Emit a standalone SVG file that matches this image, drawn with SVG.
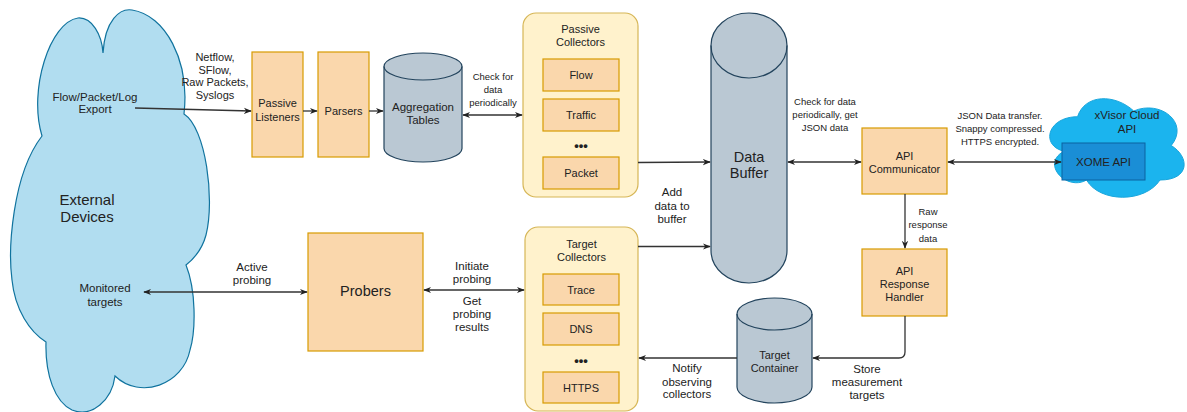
<svg xmlns="http://www.w3.org/2000/svg" width="1187" height="412" viewBox="0 0 1187 412">
  <defs>
    <style>
      .box { fill: #fad7ac; stroke: #d79b00; stroke-width: 1.2; }
      .grp { fill: #fff2cc; stroke: #d6b656; stroke-width: 1.2; }
      .cyl { fill: #bac8d3; stroke: #23445d; stroke-width: 1.2; }
      .cyl-rim { fill: none; stroke: #23445d; stroke-width: 1.2; }
      .t { font-family: "Liberation Sans", Arial, Helvetica, sans-serif; fill: #222; text-anchor: middle; }
      .xs { font-size: 9.5px; }
      .sm { font-size: 11px; }
      .md { font-size: 11.5px; }
      .lg { font-size: 14.5px; }
      .xl { font-size: 15px; }
      .dots { font-size: 13px; font-weight: bold; }
      .edge { fill: none; stroke: #333; stroke-width: 1.3; }
    </style>
    <marker id="arrow" viewBox="0 0 10 10" refX="9" refY="5" markerWidth="8" markerHeight="8" markerUnits="userSpaceOnUse" orient="auto-start-reverse">
      <path d="M0,1 L10,5 L0,9 L3,5 Z" fill="#222"/>
    </marker>
  </defs>

  <rect width="1187" height="412" fill="#ffffff"/>

  <!-- External devices cloud -->
  <g id="external-devices">
    <path d="M103,53 C105,20 120,8 132,10 C165,15 190,60 184,114 C206,128 215,200 206,235 C202,250 195,258 186,265 C196,290 196,330 190,350 C183,385 140,400 115,376 C112,400 92,418 72,410 C55,402 45,375 46,342 C30,332 15,310 12,280 C8,250 12,175 42,136 C28,90 50,22 78,18 C92,17 102,35 103,53 Z" fill="#b1ddf0" stroke="#10739e" stroke-width="1.2"/>
    <text class="t md" x="95" y="101">Flow/Packet/Log</text>
    <text class="t md" x="95" y="113">Export</text>
    <text class="t xl" x="87" y="205">External</text>
    <text class="t xl" x="87" y="222">Devices</text>
    <text class="t md" x="105" y="292">Monitored</text>
    <text class="t md" x="105" y="306">targets</text>
  </g>

  <g id="passive-listeners">
    <rect class="box" x="252" y="52" width="51" height="105"/>
    <text class="t sm" x="277.5" y="107">Passive</text>
    <text class="t sm" x="277.5" y="121">Listeners</text>
  </g>

  <g id="parsers">
    <rect class="box" x="318" y="52" width="51" height="105"/>
    <text class="t sm" x="343.5" y="115">Parsers</text>
  </g>

  <g id="aggregation-tables">
    <path class="cyl" d="M384,66.5 A39,13.5 0 0 1 462,66.5 V148.5 A39,13.5 0 0 1 384,148.5 Z"/>
    <path class="cyl-rim" d="M384,66.5 A39,13.5 0 0 0 462,66.5"/>
    <text class="t md" x="423" y="111">Aggregation</text>
    <text class="t md" x="423" y="124">Tables</text>
  </g>

  <g id="passive-collectors">
    <rect class="grp" x="523" y="13" width="115" height="184" rx="13"/>
    <text class="t sm" x="580.5" y="33">Passive</text>
    <text class="t sm" x="580.5" y="46">Collectors</text>
    <rect class="box" x="543" y="59" width="76" height="32"/>
    <text class="t sm" x="581" y="79">Flow</text>
    <rect class="box" x="543" y="99" width="76" height="32"/>
    <text class="t sm" x="581" y="119">Traffic</text>
    <text class="t dots" x="581" y="150">•••</text>
    <rect class="box" x="543" y="157" width="76" height="32"/>
    <text class="t sm" x="581" y="177">Packet</text>
  </g>

  <g id="data-buffer">
    <path class="cyl" d="M711,45.5 A38,32.5 0 0 1 787,45.5 V250.5 A38,32.5 0 0 1 711,250.5 Z"/>
    <path class="cyl-rim" d="M711,45.5 A38,32.5 0 0 0 787,45.5"/>
    <text class="t lg" x="749" y="162">Data</text>
    <text class="t lg" x="749" y="178">Buffer</text>
  </g>

  <g id="api-communicator">
    <rect class="box" x="862" y="128" width="85" height="66"/>
    <text class="t sm" x="904.5" y="160">API</text>
    <text class="t sm" x="904.5" y="173">Communicator</text>
  </g>

  <g id="api-response-handler">
    <rect class="box" x="862" y="249" width="85" height="67"/>
    <text class="t sm" x="904.5" y="275">API</text>
    <text class="t sm" x="904.5" y="288">Response</text>
    <text class="t sm" x="904.5" y="301">Handler</text>
  </g>

  <g id="xvisor-cloud">
    <path d="M1077.5,116.75 C1047.5,116.75 1040,145.5 1064,151.25 C1040,163.9 1067,191.5 1086.5,180 C1100,203 1145,203 1160,180 C1190,180 1190,157 1171.25,145.5 C1190,122.5 1160,99.5 1133.75,111 C1115,93.75 1085,93.75 1077.5,116.75 Z" fill="#1bb4ee" stroke="#1aa6dc" stroke-width="1"/>
    <text class="t md" x="1127" y="119">xVisor Cloud</text>
    <text class="t md" x="1127" y="133">API</text>
  </g>

  <g id="xome-api">
    <rect x="1062" y="143" width="83" height="37" fill="#1a8ed6" stroke="#0b62a0" stroke-width="1"/>
    <text class="t md" x="1103.5" y="166">XOME API</text>
  </g>

  <g id="probers">
    <rect class="box" x="308" y="233" width="115" height="118"/>
    <text class="t lg" x="365.5" y="296">Probers</text>
  </g>

  <g id="target-collectors">
    <rect class="grp" x="525" y="227" width="113" height="184" rx="13"/>
    <text class="t sm" x="581.5" y="248">Target</text>
    <text class="t sm" x="581.5" y="261">Collectors</text>
    <rect class="box" x="543" y="274" width="76" height="31"/>
    <text class="t sm" x="581" y="293.5">Trace</text>
    <rect class="box" x="543" y="313" width="76" height="32"/>
    <text class="t sm" x="581" y="333">DNS</text>
    <text class="t dots" x="581" y="365">•••</text>
    <rect class="box" x="543" y="372" width="76" height="31"/>
    <text class="t sm" x="581" y="391.5">HTTPS</text>
  </g>

  <g id="target-container">
    <path class="cyl" d="M737,314 A37.5,16 0 0 1 812,314 V387 A37.5,16 0 0 1 737,387 Z"/>
    <path class="cyl-rim" d="M737,314 A37.5,16 0 0 0 812,314"/>
    <text class="t sm" x="774.5" y="359">Target</text>
    <text class="t sm" x="774.5" y="372">Container</text>
  </g>

  <!-- Connectors and their labels -->
  <g id="connectors">
    <path class="edge" d="M135,108 L251,111" marker-end="url(#arrow)"/>
    <path class="edge" d="M303,111 L317,111" marker-end="url(#arrow)"/>
    <path class="edge" d="M369,111 L383,111" marker-end="url(#arrow)"/>
    <path class="edge" d="M463,115 L522,115" marker-start="url(#arrow)" marker-end="url(#arrow)"/>
    <path class="edge" d="M638,162.5 L710,162" marker-end="url(#arrow)"/>
    <path class="edge" d="M638,246.5 L710,246.5" marker-end="url(#arrow)"/>
    <path class="edge" d="M788,162 L861,162" marker-start="url(#arrow)" marker-end="url(#arrow)"/>
    <path class="edge" d="M948,162 L1061,162" marker-start="url(#arrow)" marker-end="url(#arrow)"/>
    <path class="edge" d="M905,194 L905,248" marker-end="url(#arrow)"/>
    <path class="edge" d="M905,316 V352 Q905,358 899,358 H813" marker-end="url(#arrow)"/>
    <path class="edge" d="M737,358 H639" marker-end="url(#arrow)"/>
    <path class="edge" d="M144,292 L307,292" marker-start="url(#arrow)" marker-end="url(#arrow)"/>
    <path class="edge" d="M424,290 L524,290" marker-start="url(#arrow)" marker-end="url(#arrow)"/>

    <text class="t sm" x="215" y="61">Netflow,</text>
    <text class="t sm" x="215" y="73.5">SFlow,</text>
    <text class="t sm" x="215" y="86">Raw Packets,</text>
    <text class="t sm" x="215" y="98.5">Syslogs</text>

    <text class="t xs" x="493" y="79.5">Check for</text>
    <text class="t xs" x="493" y="92.5">data</text>
    <text class="t xs" x="493" y="105.5">periodically</text>

    <text class="t md" x="672" y="196">Add</text>
    <text class="t md" x="672" y="210">data to</text>
    <text class="t md" x="672" y="223">buffer</text>

    <text class="t xs" x="825" y="104.5">Check for data</text>
    <text class="t xs" x="825" y="117.5">periodically, get</text>
    <text class="t xs" x="825" y="131">JSON data</text>

    <text class="t xs" x="1000" y="118.5">JSON Data transfer.</text>
    <text class="t xs" x="1000" y="131.5">Snappy compressed.</text>
    <text class="t xs" x="1000" y="145">HTTPS encrypted.</text>

    <text class="t xs" x="928" y="214.5">Raw</text>
    <text class="t xs" x="928" y="228">response</text>
    <text class="t xs" x="928" y="241.5">data</text>

    <text class="t md" x="867" y="373">Store</text>
    <text class="t md" x="867" y="386">measurement</text>
    <text class="t md" x="867" y="399">targets</text>

    <text class="t md" x="687" y="372">Notify</text>
    <text class="t md" x="687" y="386">observing</text>
    <text class="t md" x="687" y="398">collectors</text>

    <text class="t md" x="252" y="271">Active</text>
    <text class="t md" x="252" y="284">probing</text>

    <text class="t md" x="472" y="270">Initiate</text>
    <text class="t md" x="472" y="283">probing</text>
    <text class="t md" x="472" y="305">Get</text>
    <text class="t md" x="472" y="318">probing</text>
    <text class="t md" x="472" y="331">results</text>
  </g>
</svg>
